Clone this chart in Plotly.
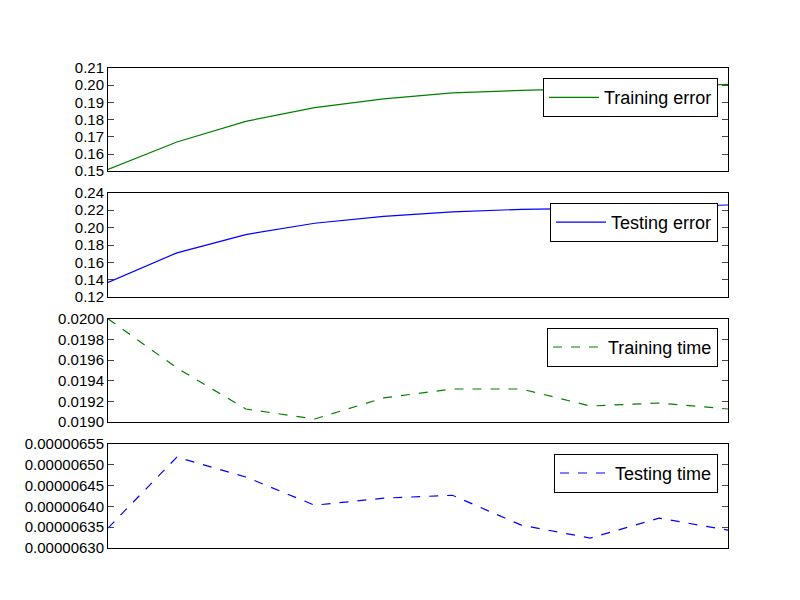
import plotly.graph_objects as go

x = list(range(10))
train_err = [0.151, 0.167, 0.179, 0.187, 0.192, 0.1955, 0.197, 0.198, 0.199, 0.2005]
test_err = [0.137, 0.171, 0.192, 0.205, 0.213, 0.218, 0.221, 0.222, 0.224, 0.226]
train_time = [0.0200, 0.019524, 0.019126, 0.019029, 0.019233, 0.01932, 0.01932, 0.019155, 0.019184, 0.019126]
test_time = [6.348e-6, 6.519e-6, 6.471e-6, 6.403e-6, 6.42e-6, 6.427e-6, 6.355e-6, 6.324e-6, 6.372e-6, 6.343e-6]

series = [
    ("Training error", train_err, "green", "solid", [0.15, 0.21], 0.01, ".2f"),
    ("Testing error", test_err, "blue", "solid", [0.12, 0.24], 0.02, ".2f"),
    ("Training time", train_time, "green", "dash", [0.0190, 0.0200], 0.0002, ".4f"),
    ("Testing time", test_time, "blue", "dash", [6.30e-6, 6.55e-6], 0.05e-6, ".8f"),
]
domains = [[0.728, 0.9], [0.518, 0.692], [0.31, 0.482], [0.1, 0.273]]
legtops = [0.883, 0.675, 0.467, 0.257]

fig = go.Figure()
layout = dict(width=800, height=600, margin=dict(l=0, r=0, t=0, b=0),
              showlegend=True,
              plot_bgcolor="white", paper_bgcolor="white",
              font=dict(family="Liberation Sans, Arial, sans-serif", size=15, color="black"))
for i, (name, ys, col, dash, rng, dt, fmt) in enumerate(series):
    n = "" if i == 0 else str(i + 1)
    fig.add_trace(go.Scatter(x=x, y=ys, mode="lines", name=name, showlegend=True,
                             line=dict(color=col, dash=dash, width=1.2),
                             xaxis="x" + n, yaxis="y" + n,
                             legend="legend" + n))
    layout["xaxis" + n] = dict(domain=[0.125, 0.9], range=[0, 9], anchor="y" + n,
                               showticklabels=False, ticks="", showgrid=False, zeroline=False,
                               automargin=False,
                               showline=True, linecolor="black", linewidth=1, mirror=True)
    layout["yaxis" + n] = dict(domain=domains[i], range=rng, anchor="x" + n, dtick=dt,
                               tick0=rng[0], tickformat=fmt, ticks="inside", ticklen=6,
                               showgrid=False, zeroline=False, showline=True, automargin=False,
                               linecolor="black", linewidth=1, mirror="ticks")
    layout["legend" + n] = dict(x=0.8875, y=legtops[i], xanchor="right", yanchor="top",
                                bordercolor="black", borderwidth=1, bgcolor="white",
                                itemwidth=50, font=dict(size=18))
fig.update_layout(**layout)
fig.write_html("out.html")
